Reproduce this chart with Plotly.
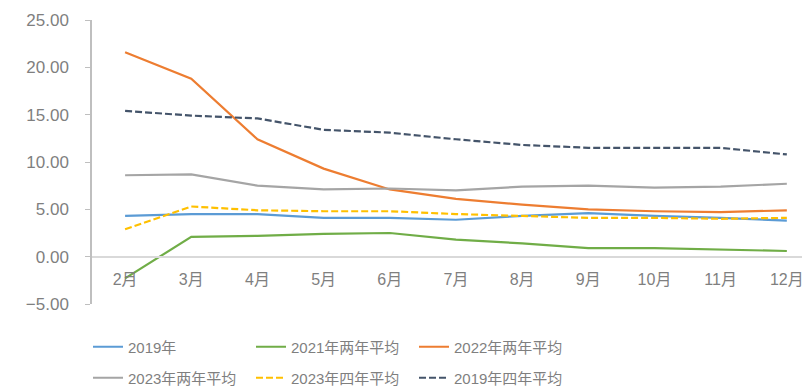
import plotly.graph_objects as go

# 月份
months = ['2月', '3月', '4月', '5月', '6月', '7月', '8月', '9月', '10月', '11月', '12月']

# 各序列数值
y2019 = [4.3, 4.5, 4.5, 4.1, 4.1, 3.9, 4.3, 4.6, 4.3, 4.1, 3.8]
y2021_avg2 = [-2.3, 2.1, 2.2, 2.4, 2.5, 1.8, 1.4, 0.9, 0.9, 0.75, 0.6]
y2022_avg2 = [21.6, 18.8, 12.4, 9.3, 7.1, 6.1, 5.5, 5.0, 4.8, 4.7, 4.9]
y2023_avg2 = [8.6, 8.7, 7.5, 7.1, 7.2, 7.0, 7.4, 7.5, 7.3, 7.4, 7.7]
y2023_avg4 = [2.9, 5.3, 4.9, 4.8, 4.8, 4.5, 4.3, 4.1, 4.1, 4.0, 4.1]
y2019_avg4 = [15.4, 14.9, 14.6, 13.4, 13.1, 12.4, 11.8, 11.5, 11.5, 11.5, 10.8]

y_ticks = [-5, 0, 5, 10, 15, 20, 25]

FONT = 'Liberation Sans, Noto Sans CJK SC'
TXT = '#7f7f7f'

# page body has an 8px margin, so the figure is a bit smaller than the window
W, H = 802, 379

fig = go.Figure()

series = [
    ('2019年', y2019, '#5B9BD5', 'solid', 'legend'),
    ('2021年两年平均', y2021_avg2, '#70AD47', 'solid', 'legend'),
    ('2022年两年平均', y2022_avg2, '#ED7D31', 'solid', 'legend'),
    ('2023年两年平均', y2023_avg2, '#A5A5A5', 'solid', 'legend2'),
    ('2023年四年平均', y2023_avg4, '#FFC000', '7px,3px', 'legend2'),
    ('2019年四年平均', y2019_avg4, '#44546A', '7px,3px', 'legend2'),
]

for name, vals, color, dash, lg in series:
    fig.add_trace(go.Scatter(
        x=months, y=vals, name=name, mode='lines',
        line=dict(color=color, width=2.2, dash=dash),
        legend=lg,
    ))

leg_common = dict(
    orientation='h', xref='container', yref='container',
    xanchor='left', yanchor='middle',
    entrywidth=118, entrywidthmode='pixels',
    font=dict(family=FONT, size=15, color=TXT),
    bgcolor='rgba(0,0,0,0)',
)

fig.update_layout(
    width=W, height=H,
    margin=dict(l=84, r=0, t=12, b=83, autoexpand=False),
    plot_bgcolor='white', paper_bgcolor='white',
    font=dict(family=FONT, color=TXT),
    xaxis=dict(
        type='category', range=[-0.5, 10.35],
        anchor='free', position=5 / 30, automargin=False,
        showline=True, linecolor='#d9d9d9', linewidth=1.5,
        showgrid=False, ticks='',
        tickfont=dict(family=FONT, size=16, color=TXT),
        ticklabelstandoff=8,
    ),
    yaxis=dict(
        range=[-5, 25], tickvals=y_ticks, tickformat='.2f', automargin=False,
        showline=True, linecolor='#bfbfbf', linewidth=1.5,
        ticks='outside', ticklen=5, tickcolor='#bfbfbf',
        showgrid=False, zeroline=False,
        tickfont=dict(family=FONT, size=17, color=TXT),
        ticklabelstandoff=13,
    ),
    legend=dict(x=80 / W, y=1 - 339 / H, **leg_common),
    legend2=dict(x=80 / W, y=1 - 370 / H, **leg_common),
)

fig.write_html('out.html')
